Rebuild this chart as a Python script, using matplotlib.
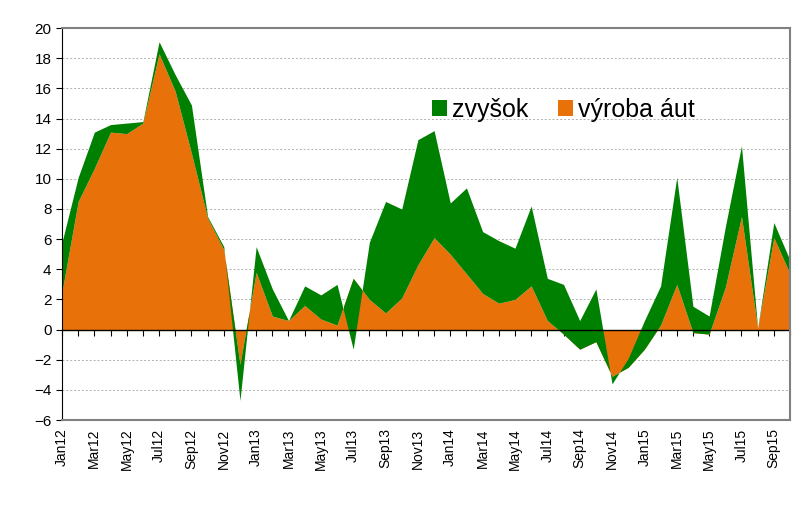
import numpy as np
import matplotlib.pyplot as plt

plt.rcParams['font.family'] = 'Liberation Sans'

months = ['Jan', 'Feb', 'Mar', 'Apr', 'May', 'Jun', 'Jul', 'Aug', 'Sep', 'Oct', 'Nov', 'Dec']
labels = [m + str(y) for y in range(12, 16) for m in months][:46]

# vyroba aut (orange) and total incl. zvysok (green edge)
car = [2.5, 8.5, 10.7, 13.1, 13.0, 13.7, 18.3, 15.8, 11.7, 7.4, 5.3, -2.3,
       3.8, 0.9, 0.6, 1.6, 0.7, 0.3, 3.4, 2.0, 1.1, 2.1, 4.3, 6.1,
       5.0, 3.7, 2.4, 1.75, 2.0, 2.9, 0.6, -0.3, -1.3, -0.8, -3.1, -2.5,
       -1.3, 0.3, 3.0, -0.2, -0.3, 2.8, 7.5, 0.1, 6.1, 3.7]
total = [5.8, 10.1, 13.1, 13.6, 13.7, 13.8, 19.1, 16.9, 14.9, 7.5, 5.5, -4.7,
         5.5, 2.7, 0.6, 2.9, 2.3, 3.0, -1.3, 5.8, 8.5, 8.0, 12.6, 13.2,
         8.4, 9.4, 6.5, 5.9, 5.4, 8.2, 3.4, 3.0, 0.6, 2.7, -3.6, -1.9,
         0.6, 2.9, 10.1, 1.55, 0.9, 6.8, 12.2, 0.1, 7.1, 4.6]

x = np.arange(len(car))
green = '#008000'
orange = '#E8710A'

fig = plt.figure(figsize=(8, 5.11), dpi=100)
ax = fig.add_axes([0.0775, 0.178, 0.91, 0.767])

ax.fill_between(x, 0, car, color=orange, linewidth=0, label='výroba áut')
ax.fill_between(x, car, total, color=green, linewidth=0, label='zvyšok')
ax.axhline(0, color='black', linewidth=1)

ax.set_xlim(0, 45)
ax.set_ylim(-6, 20)
ax.set_yticks(range(-6, 21, 2))
ax.yaxis.grid(True, color='#b0b0b0', linestyle=(0, (2, 2)), linewidth=0.7)
ax.set_axisbelow(True)
ax.set_xticks(x[::2])
ax.set_xticklabels(labels[::2], rotation=90)
ax.tick_params(axis='x', length=0, pad=6, labelsize=10)
ax.tick_params(axis='y', labelsize=11, length=4)

sec = ax.secondary_xaxis(6 / 26)
sec.set_xticks(x)
sec.set_xticklabels([])
sec.tick_params(length=4, direction='out')
sec.spines['bottom'].set_visible(False)

for s in ['top', 'right', 'bottom']:
    ax.spines[s].set_color('#808080')
    ax.spines[s].set_linewidth(1.5)

h, l = ax.get_legend_handles_labels()
ax.legend(h[::-1], l[::-1], loc='upper right', bbox_to_anchor=(0.9, 0.88), ncol=2,
          frameon=False, fontsize=18, handlelength=0.6, handleheight=0.6,
          handletextpad=0.2, columnspacing=1.2)

fig.savefig('out.png')
